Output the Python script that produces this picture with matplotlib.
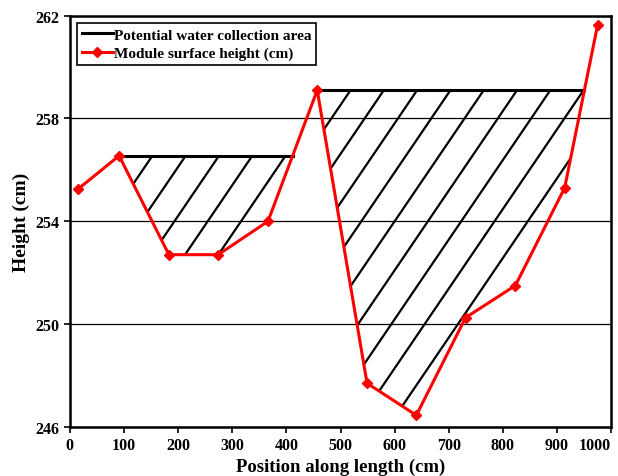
import numpy as np
import matplotlib
matplotlib.use('Agg')
import matplotlib.pyplot as plt
from matplotlib.patches import Polygon

# module surface height along the length
pos = [15, 91, 183, 274, 366, 457, 549, 640, 731, 823, 914, 975]
height = [255.25, 256.55, 252.7, 252.7, 254.0, 259.1, 247.7, 246.45, 250.25, 251.5, 255.3, 261.65]

# potential water collection areas: (index of the start point, index of the last point below the level)
pools = [(1, 4), (5, 10)]

xticks = list(range(0, 1001, 100))
yticks = [246, 250, 254, 258, 262]

plt.rcParams['font.family'] = ['Liberation Serif', 'DejaVu Serif']
plt.rcParams['font.weight'] = 'bold'

fig = plt.figure(figsize=(6.18, 4.77), dpi=100)
ax = fig.add_axes([0.113, 0.103, 0.876, 0.862])

x = np.array(pos, dtype=float)
y = np.array(height, dtype=float)

hatch_dx = 61.5     # spacing of hatch lines (cm along x)
hatch_slope = 0.031 # slope of hatch lines (cm height per cm length)

for i0, i1 in pools:
    top = y[i0]
    # where the curve climbs back to the pool level
    xa, xb = x[i1], x[i1 + 1]
    ya, yb = y[i1], y[i1 + 1]
    xe = xa + (top - ya) / (yb - ya) * (xb - xa)
    verts = [(x[i0], top)] + list(zip(x[i0 + 1:i1 + 1], y[i0 + 1:i1 + 1])) + [(xe, top)]
    poly = Polygon(verts, closed=True, facecolor='none', edgecolor='none')
    ax.add_patch(poly)
    ax.plot([x[i0], xe], [top, top], color='black', lw=2.2, zorder=3,
            label='Potential water collection area' if i0 == pools[0][0] else None)
    k = 1
    while True:
        xk = x[i0] + k * hatch_dx
        if xk - hatch_dx > xe:
            break
        xx = np.array([xk - 400, xk])
        ln, = ax.plot(xx, top + hatch_slope * (xx - xk), color='black', lw=1.6, zorder=2)
        ln.set_clip_path(poly)
        k += 1

ax.plot(x, y, color='#ff0000', lw=2.2, marker='D', ms=5, zorder=4,
        label='Module surface height (cm)')

ax.set_xlim(0, 1000)
ax.set_ylim(246, 262)
ax.set_xticks(xticks)
ax.set_yticks(yticks)
ax.yaxis.grid(True, color='black', lw=0.9)
ax.set_axisbelow(True)
for s in ax.spines.values():
    s.set_linewidth(1.8)
ax.tick_params(direction='out', length=4, width=1.2, labelsize=11.5)
ax.get_xticklabels()[-1].set_horizontalalignment('right')

ax.set_xlabel('Position along length (cm)', fontsize=13.5, fontweight='bold', labelpad=3)
ax.set_ylabel('Height (cm)', fontsize=14, fontweight='bold', labelpad=4)

leg = ax.legend(loc='upper left', fontsize=11, fancybox=False, framealpha=1,
                edgecolor='black', handlelength=2.0, handletextpad=0.1,
                borderaxespad=0.5, borderpad=0.3, labelspacing=0.3)
leg.get_frame().set_linewidth(1.2)

fig.savefig('out.png', dpi=100)
